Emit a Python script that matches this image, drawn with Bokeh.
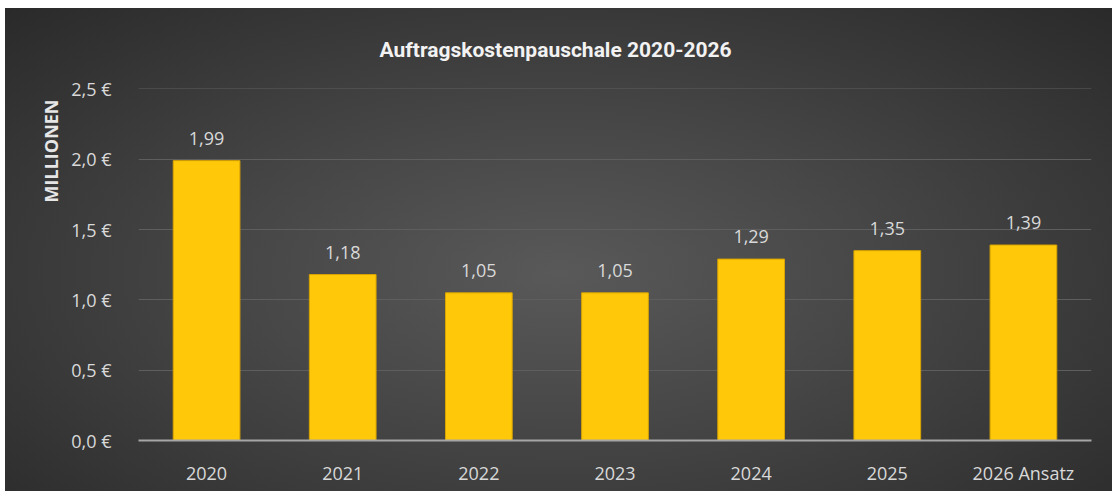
from bokeh.plotting import figure
from bokeh.models import ColumnDataSource, LabelSet, Title, FactorRange, FixedTicker
from bokeh.core.properties import value
from bokeh.embed import file_html
from bokeh.resources import INLINE

categories = ["2020", "2021", "2022", "2023", "2024", "2025", "2026 Ansatz"]
values = [1.99, 1.18, 1.05, 1.05, 1.29, 1.35, 1.39]
y_ticks = [0.0, 0.5, 1.0, 1.5, 2.0, 2.5]
title_text = "Auftragskostenpauschale 2020-2026"
y_label = "MILLIONEN"

labels = [f"{v:.2f}".replace(".", ",") for v in values]
src = ColumnDataSource(dict(cat=categories, val=values, lab=labels))

W, H = 1107, 483
p = figure(x_range=FactorRange(*categories, range_padding=0), y_range=(0, 2.503),
           width=W, height=H, output_backend="svg", toolbar_location=None,
           min_border_left=133, min_border_right=21, min_border_top=80, min_border_bottom=51)
p.styles = {"background": "radial-gradient(ellipse at 50% 55%, #595959 0%, #474747 40%, #2a2a2a 100%)",
            "margin-top": "8px", "margin-left": "5px"}
p.background_fill_alpha = 0
p.border_fill_alpha = 0
p.outline_line_color = None

p.vbar(x="cat", top="val", width=0.49, source=src, fill_color="#FFC90A",
       line_color="#D9A300", line_width=1)

p.add_layout(LabelSet(x="cat", y="val", text="lab", source=src, text_align="center",
                      text_baseline="bottom", y_offset=16, text_color="#D9D9D9",
                      text_font_size="18px", text_font=value("Open Sans")))

p.xgrid.grid_line_color = None
p.ygrid.grid_line_color = "#5E5E5E"
p.ygrid.grid_line_width = 1
p.yaxis.ticker = FixedTicker(ticks=y_ticks)
p.yaxis.major_label_overrides = {t: f"{t:.1f}".replace(".", ",") + " €" for t in y_ticks}
p.yaxis.axis_line_color = None
p.yaxis.major_tick_line_color = None
p.yaxis.minor_tick_line_color = None
p.yaxis.major_label_text_color = "#D9D9D9"
p.yaxis.major_label_text_font_size = "18px"
p.yaxis.major_label_text_font = "Open Sans"
p.yaxis.major_label_standoff = 21

p.xaxis.axis_line_color = "#A6A6A6"
p.xaxis.axis_line_width = 2
p.xaxis.major_tick_line_color = None
p.xaxis.minor_tick_line_color = None
p.xaxis.major_label_text_color = "#D9D9D9"
p.xaxis.major_label_text_font_size = "18px"
p.xaxis.major_label_text_font = "Open Sans"
p.xaxis.major_label_standoff = 14

p.add_layout(Title(text=title_text, align="left", offset=241, standoff=53,
                   text_color="#F2F2F2", text_font="Roboto", text_font_style="bold",
                   text_font_size="21px"), "above")
p.add_layout(Title(text=y_label, align="right", offset=11, standoff=11,
                   text_color="#E6E6E6", text_font="Open Sans", text_font_style="bold",
                   text_font_size="18px"), "left")

open("out.html", "w").write(file_html(p, INLINE))
